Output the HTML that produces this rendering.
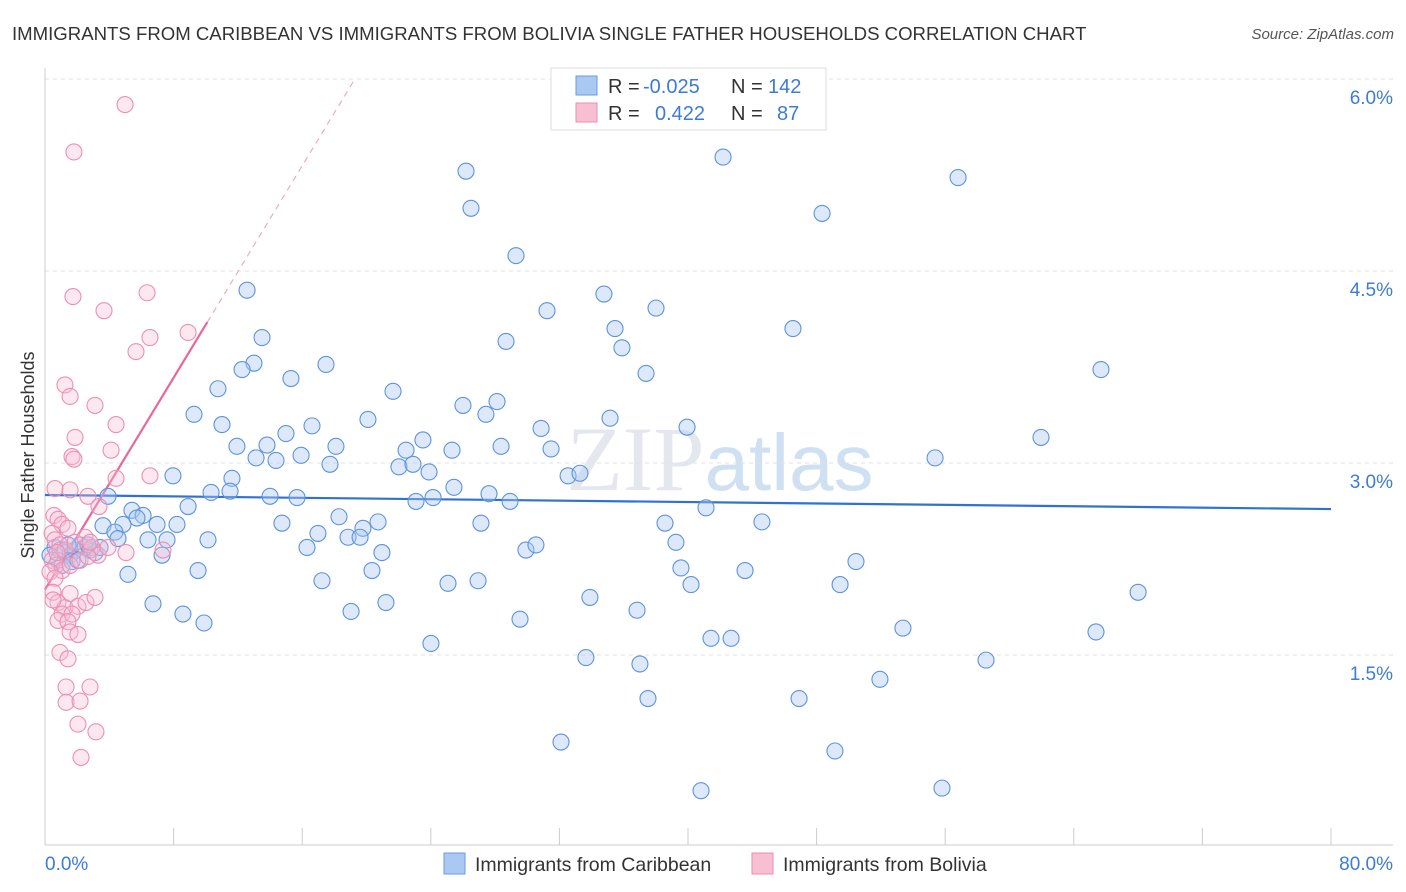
<!DOCTYPE html>
<html><head><meta charset="utf-8">
<style>
body{margin:0;background:#fff;font-family:"Liberation Sans",sans-serif;}
#wrap{position:relative;width:1406px;height:892px;overflow:hidden;}
</style></head>
<body>
<div id="wrap">
<svg id="chart" width="1406" height="892" xmlns="http://www.w3.org/2000/svg">
<text x="12" y="40" font-size="18.6" fill="#333">IMMIGRANTS FROM CARIBBEAN VS IMMIGRANTS FROM BOLIVIA SINGLE FATHER HOUSEHOLDS CORRELATION CHART</text>
<text x="1394" y="39" font-size="15" fill="#555" font-style="italic" text-anchor="end">Source: ZipAtlas.com</text>
<text x="720" y="490" font-size="92" fill="#e4e8ee" text-anchor="middle" font-family="Liberation Serif">ZIP<tspan font-family="Liberation Sans" fill="#cfe0f3" font-size="80">atlas</tspan></text>
<g id="grid"></g>
<g id="axes"></g>
<g id="trend"></g>
<g id="pts"></g>
<text transform="translate(34,455) rotate(-90)" font-size="18" fill="#333" text-anchor="middle">Single Father Households</text>
<g>
<rect x="551" y="68" width="275" height="62" fill="#fff" stroke="#ddd"/>
<rect x="576" y="76" width="21" height="19" fill="#a9c8f2" stroke="#6a9be0"/>
<rect x="576" y="103" width="21" height="19" fill="#f8bfd2" stroke="#ea8fb0"/>
<g font-size="20" fill="#333">
<text x="608" y="93">R =</text><text x="643" y="93" fill="#3d7bd6">-0.025</text><text x="731" y="93">N =</text><text x="768" y="93" fill="#3d7bd6">142</text>
</g>
<g font-size="20" fill="#333">
<text x="608" y="120">R =</text><text x="655" y="120" fill="#3d7bd6">0.422</text><text x="731" y="120">N =</text><text x="777" y="120" fill="#3d7bd6">87</text>
</g>
</g>
<g>
<rect x="444" y="853" width="21" height="21" fill="#a9c8f2" stroke="#6a9be0"/>
<text x="475" y="871" font-size="19.5" fill="#333">Immigrants from Caribbean</text>
<rect x="752" y="853" width="21" height="21" fill="#f8bfd2" stroke="#ea8fb0"/>
<text x="783" y="871" font-size="19.5" fill="#333">Immigrants from Bolivia</text>
</g>
</svg>
</div>
<script>
const xTicks=[0,8,16,24,32,40,48,56,64,72,80];
const yTicks=[1.5,3.0,4.5,6.0];
const yTickLabels=["1.5%","3.0%","4.5%","6.0%"];
const xEndLabels=["0.0%","80.0%"];
const caribX=[26.19,26.5,42.18,56.8,48.34,29.3,12.57,34.77,31.23,38.01,35.46,46.53,13.5,28.68,35.89,13.0,12.26,10.76,17.48,15.3,37.39,65.69,21.65,26.0,28.12,9.27,11.01,27.43,35.15,20.09,16.61,30.86,11.94,13.81,14.99,18.1,23.51,39.94,61.96,22.46,28.37,31.48,25.32,13.13,15.93,14.37,17.73,22.02,22.89,23.89,55.37,32.54,33.28,7.96,11.63,25.44,3.92,10.33,11.51,14.0,15.68,27.62,23.08,24.14,28.93,41.12,8.9,5.41,6.1,5.72,3.61,4.85,6.97,8.21,14.74,18.29,20.72,27.12,38.57,44.6,4.35,16.98,19.78,18.85,19.6,4.54,6.41,7.59,10.14,39.25,29.92,30.54,16.3,20.96,7.28,50.45,9.52,5.16,20.34,39.56,43.55,17.23,25.07,26.94,40.19,49.46,33.9,68.0,6.72,21.21,8.58,9.89,19.04,29.55,36.83,53.37,41.43,42.68,65.38,24.01,33.65,37.01,58.54,51.94,37.51,46.91,32.1,49.14,40.81,55.8,0.62,0.93,1.24,1.56,1.87,2.18,2.49,2.8,3.11,3.42,0.81,1.06,1.68,2.05,0.31,1.43,2.67];
const caribY=[5.28,4.99,5.39,5.23,4.95,4.62,4.35,4.32,4.19,4.21,4.05,4.05,3.98,3.95,3.90,3.78,3.73,3.58,3.77,3.66,3.70,3.73,3.56,3.45,3.48,3.38,3.30,3.38,3.35,3.34,3.29,3.27,3.13,3.14,3.23,3.13,3.18,3.28,3.20,3.10,3.13,3.11,3.10,3.04,3.06,3.02,2.99,2.97,2.99,2.93,3.04,2.90,2.92,2.90,2.88,2.81,2.74,2.77,2.78,2.74,2.73,2.76,2.70,2.73,2.70,2.65,2.66,2.63,2.59,2.57,2.51,2.52,2.52,2.52,2.53,2.58,2.54,2.53,2.53,2.54,2.46,2.45,2.49,2.42,2.42,2.41,2.40,2.40,2.40,2.38,2.32,2.36,2.34,2.30,2.28,2.23,2.16,2.13,2.16,2.18,2.16,2.08,2.06,2.08,2.05,2.05,1.95,1.99,1.90,1.91,1.82,1.75,1.84,1.78,1.85,1.71,1.63,1.63,1.68,1.59,1.48,1.43,1.46,1.31,1.16,1.16,0.82,0.75,0.44,0.46,2.34,2.32,2.30,2.28,2.32,2.36,2.34,2.32,2.30,2.34,2.24,2.20,2.23,2.24,2.28,2.36,2.36];
const boliviaX=[4.98,1.80,6.35,1.74,3.67,6.53,5.66,8.9,1.24,1.56,3.11,4.42,1.87,4.11,1.68,1.80,6.53,4.42,0.62,1.56,2.67,3.36,0.56,0.81,1.06,1.43,0.44,0.62,0.93,1.24,1.87,2.49,2.92,3.30,3.92,5.04,7.34,0.44,0.68,1.06,1.56,2.18,2.67,0.31,0.62,0.5,1.56,0.81,1.24,2.05,2.55,3.11,1.06,1.68,0.81,1.43,1.56,2.05,0.93,1.43,1.31,2.8,1.31,2.18,2.05,3.17,2.24,0.5,2.8,0.75];
const boliviaY=[5.80,5.43,4.33,4.30,4.19,3.98,3.87,4.02,3.61,3.52,3.45,3.30,3.20,3.10,3.05,3.03,2.90,2.88,2.80,2.79,2.74,2.66,2.59,2.56,2.52,2.49,2.45,2.40,2.36,2.32,2.38,2.42,2.34,2.28,2.34,2.30,2.32,2.24,2.20,2.16,2.20,2.24,2.27,2.15,2.10,1.99,1.98,1.91,1.87,1.88,1.91,1.95,1.82,1.82,1.77,1.76,1.68,1.66,1.52,1.47,1.25,1.25,1.13,1.14,0.96,0.90,0.70,1.93,2.38,2.30];
const caribTrend=[2.75,2.64];
const boliviaTrend=[2.01,0.207];

const NS="http://www.w3.org/2000/svg";
const X0=45,X1=1331,Y0=847,YS=128;
function sx(v){return X0+v*(X1-X0)/80;}
function sy(v){return Y0-v*YS;}
function mk(tag,attrs,parent){const e=document.createElementNS(NS,tag);for(const k in attrs)e.setAttribute(k,attrs[k]);parent.appendChild(e);return e;}
const grid=document.getElementById('grid'),axes=document.getElementById('axes'),trend=document.getElementById('trend'),pts=document.getElementById('pts');
yTicks.forEach((t,i)=>{
 const l=mk('line',{x1:45,x2:1393,y1:sy(t),y2:sy(t),stroke:'#e2e2e2','stroke-dasharray':'4,4'},grid);
 
 
 const tx=mk('text',{x:1393,y:sy(t)+25,'font-size':19,fill:'#3d7bd6','text-anchor':'end'},grid);
 tx.textContent=yTickLabels[i];
 
 
});
const ya=mk('line',{x1:45,x2:45,y1:68,y2:845,stroke:'#ccc'},axes);


const xa=mk('line',{x1:45,x2:1393,y1:845,y2:845,stroke:'#ccc'},axes);


xTicks.forEach(t=>{
 const l=mk('line',{x1:sx(t),x2:sx(t),y1:828,y2:845,stroke:'#ccc'},axes);
 
 
});
const xl0=mk('text',{x:45,y:870,'font-size':19,fill:'#3d7bd6'},axes);
xl0.textContent=xEndLabels[0];


const xl1=mk('text',{x:1393,y:870,'font-size':19,fill:'#3d7bd6','text-anchor':'end'},axes);
xl1.textContent=xEndLabels[1];



caribX.forEach((x,i)=>{
 const c=mk('circle',{cx:sx(x),cy:sy(caribY[i]),r:8,fill:'rgba(170,200,242,0.4)',stroke:'#5c93dc','stroke-width':1.1},pts);
 
 
});
boliviaX.forEach((x,i)=>{
 const c=mk('circle',{cx:sx(x),cy:sy(boliviaY[i]),r:8,fill:'rgba(248,190,212,0.35)',stroke:'#ec8fb2','stroke-width':1.1},pts);
 
 
});
const bt=mk('line',{x1:sx(0),y1:sy(caribTrend[0]),x2:sx(80),y2:sy(caribTrend[1]),stroke:'#2f72d4','stroke-width':2.2},trend);


const xSolid=10.1, xEnd=(6.0-boliviaTrend[0])/boliviaTrend[1];
const pt=mk('line',{x1:sx(0),y1:sy(boliviaTrend[0]),x2:sx(xSolid),y2:sy(boliviaTrend[0]+boliviaTrend[1]*xSolid),stroke:'#e8679a','stroke-width':2.2},trend);


const pd=mk('line',{x1:sx(xSolid),y1:sy(boliviaTrend[0]+boliviaTrend[1]*xSolid),x2:sx(xEnd),y2:sy(6.0),stroke:'#eeaac4','stroke-width':1.2,'stroke-dasharray':'6,5'},trend);


</script>
</body></html>
